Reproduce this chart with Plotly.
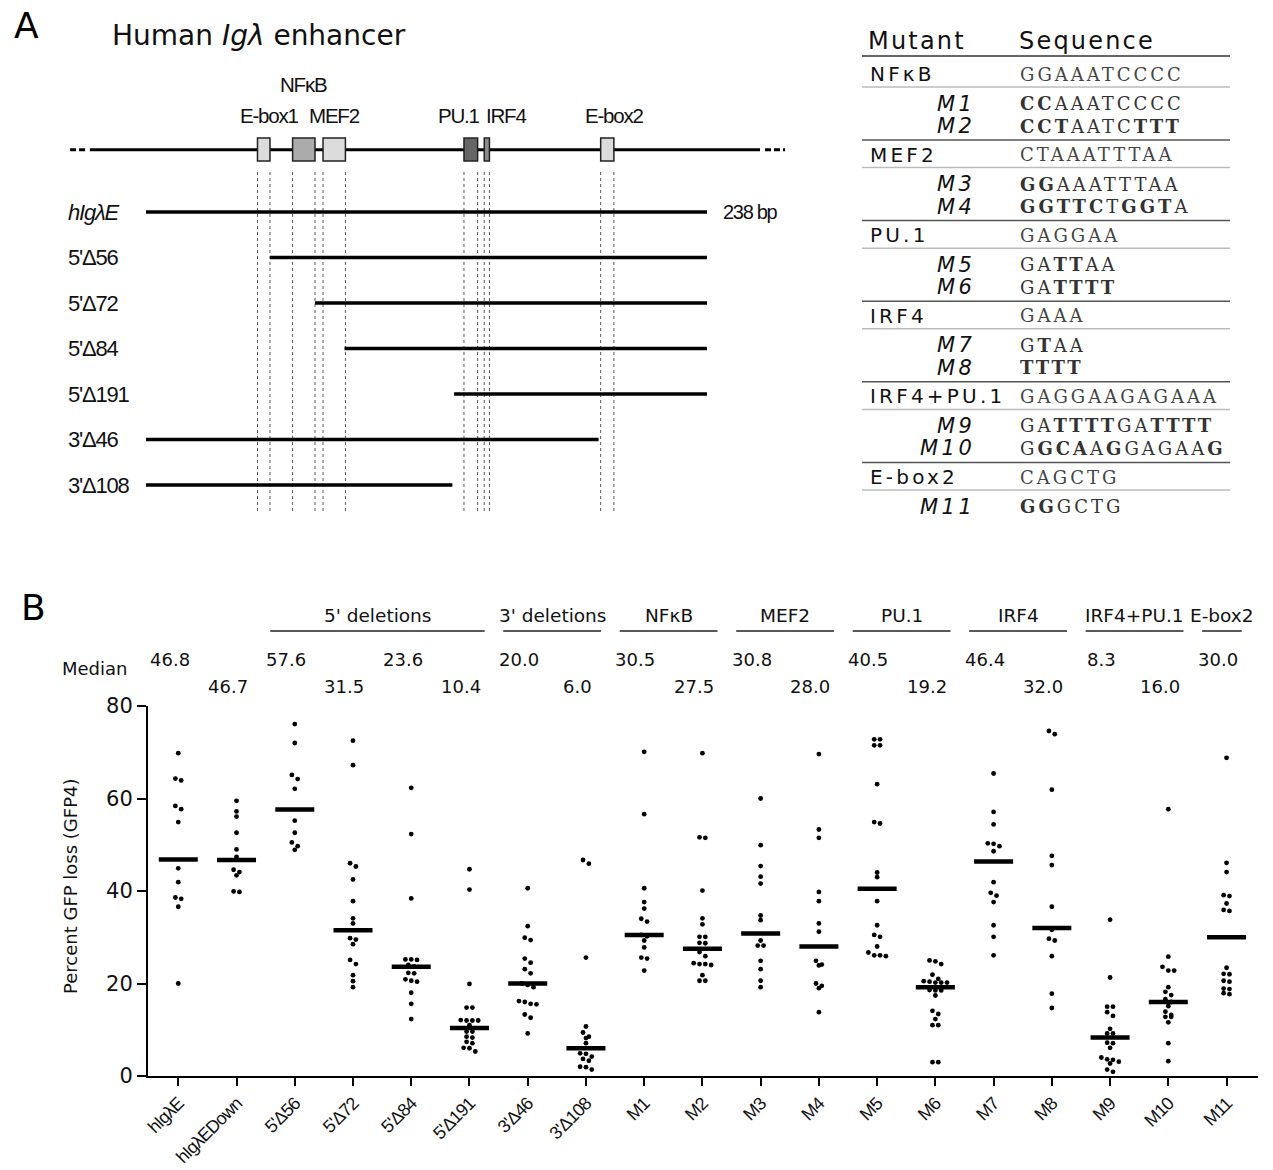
import plotly.graph_objects as go

W, H = 1273, 1170

# ---------------- Panel B data ----------------
categories = ["hIgλE", "hIgλEDown", "5'Δ56", "5'Δ72", "5'Δ84", "5'Δ191",
              "3'Δ46", "3'Δ108", "M1", "M2", "M3", "M4", "M5", "M6",
              "M7", "M8", "M9", "M10", "M11"]
medians = [46.8, 46.7, 57.6, 31.5, 23.6, 10.4, 20.0, 6.0, 30.5, 27.5,
           30.8, 28.0, 40.5, 19.2, 46.4, 32.0, 8.3, 16.0, 30.0]

hIgE = [69.8, 64.3, 63.9, 58.4, 57.7, 54.9, 44.9, 41.9, 38.6, 38.3, 36.6, 20.0]
hIgEDown = [59.5, 57.2, 56.1, 52.6, 49.0, 47.4, 44.6, 44.1, 43.4, 39.9, 39.8]
d5_56 = [76.1, 72.0, 65.1, 64.2, 62.1, 55.2, 52.6, 50.5, 49.7, 48.9]
d5_72 = [72.5, 67.2, 46.0, 45.3, 42.5, 37.8, 34.1, 33.0, 29.8, 29.5, 28.5,
         25.1, 24.2, 21.8, 20.5, 19.2]
d5_84 = [62.3, 52.3, 38.4, 25.2, 25.2, 25.1, 24.0, 23.7, 22.3, 22.2, 20.9,
         20.6, 20.4, 18.0, 15.6, 12.3]
d5_191 = [44.7, 40.3, 19.9, 14.8, 14.8, 12.1, 12.0, 12.0, 12.0, 11.0, 9.6,
          9.6, 8.5, 8.3, 7.4, 7.1, 6.1, 6.0, 5.3]
d3_46 = [40.6, 32.4, 29.9, 29.4, 25.4, 24.5, 23.1, 22.2, 20.0, 19.7, 19.2,
         16.2, 16.0, 15.6, 15.5, 13.3, 12.6, 9.2]
d3_108 = [46.7, 45.9, 25.6, 10.7, 9.4, 8.5, 8.2, 7.1, 4.9, 4.8, 4.2, 3.7,
          3.3, 2.0, 1.9, 1.4]
m1 = [70.1, 56.6, 40.6, 37.6, 36.2, 34.0, 33.4, 30.5, 30.2, 29.3, 27.8,
      25.6, 25.4, 22.8]
m2 = [69.8, 51.6, 51.5, 40.1, 34.1, 32.8, 30.1, 30.1, 28.8, 28.7, 26.8,
      25.9, 24.4, 24.2, 24.2, 24.0, 21.8, 20.6, 20.6]
m3 = [60.0, 49.9, 45.4, 43.1, 41.6, 34.7, 33.7, 29.3, 28.2, 28.2, 24.9,
      23.1, 20.6, 19.2]
m4 = [69.6, 53.3, 51.5, 39.8, 37.8, 33.0, 31.2, 24.9, 24.1, 23.9, 20.0,
      19.5, 19.0, 13.8]
m5 = [72.8, 72.8, 71.5, 71.5, 63.1, 54.9, 54.6, 44.0, 43.0, 37.8, 32.6,
      30.5, 30.1, 28.0, 26.7, 26.1, 26.1, 25.9]
m6 = [25.0, 24.8, 24.2, 21.9, 21.0, 20.5, 20.4, 20.2, 20.2, 20.2, 18.6,
      18.5, 18.5, 17.4, 14.1, 13.4, 12.3, 11.0, 11.0, 3.0, 3.0]
m7 = [65.4, 57.1, 54.4, 50.3, 50.2, 49.7, 48.6, 41.9, 39.6, 39.0, 37.6,
      32.6, 30.1, 26.1]
m8 = [74.6, 73.9, 61.9, 47.6, 45.6, 36.6, 31.6, 29.7, 29.3, 25.9, 17.8, 14.7]
m9 = [33.8, 21.3, 15.0, 15.0, 13.8, 13.0, 10.2, 9.2, 9.2, 7.2, 7.1, 6.1,
      4.0, 3.6, 3.5, 3.1, 2.7, 1.4, 0.9]
m10 = [57.7, 25.8, 23.6, 22.8, 22.8, 19.2, 18.2, 17.5, 16.6, 16.0, 15.1,
       13.9, 13.2, 12.8, 12.8, 11.6, 7.1, 3.2]
m11 = [68.8, 46.1, 44.1, 39.1, 38.9, 37.3, 35.9, 35.7, 23.4, 22.1, 22.0,
       20.6, 20.4, 18.9, 18.8, 17.9, 17.7]
series = [hIgE, hIgEDown, d5_56, d5_72, d5_84, d5_191, d3_46, d3_108,
          m1, m2, m3, m4, m5, m6, m7, m8, m9, m10, m11]

group_names = ["5' deletions", "3' deletions", "NFκB", "MEF2", "PU.1",
               "IRF4", "IRF4+PU.1", "E-box2"]
group_first = [2, 6, 8, 10, 12, 14, 16, 18]
group_last = [5, 7, 9, 11, 13, 15, 17, 18]
y_ticks = [0, 20, 40, 60, 80]

# ---------------- Panel A data ----------------
construct_names = ["<i>hIgλE</i>", "5'Δ56", "5'Δ72", "5'Δ84",
                   "5'Δ191", "3'Δ46", "3'Δ108"]
construct_start = [0, 52.6, 71.7, 84.2, 130.7, 0, 0]
construct_end = [238, 238, 238, 238, 238, 192, 130]
feature_names = ["E-box1", "NFκB", "MEF2", "PU.1", "IRF4", "E-box2"]
feature_start = [47.3, 62.2, 75.1, 134.9, 143.5, 192.9]
feature_end = [52.6, 71.7, 84.6, 140.7, 145.7, 198.5]
feature_label_x = [52.4, 67.0, 80.0, 133.0, 152.6, 198.9]
feature_label_row = [-2.11, -2.81, -2.11, -2.11, -2.11, -2.11]
feature_colors = ["#dcdcdc", "#ababab", "#dcdcdc", "#666666", "#8c8c8c", "#dcdcdc"]

# ---------------- Table data ----------------
table_groups = ["NFκB", "MEF2", "PU.1", "IRF4", "IRF4+PU.1", "E-box2"]
wt_seqs = ["GGAAATCCCC", "CTAAATTTAA", "GAGGAA", "GAAA", "GAGGAAGAGAAA", "CAGCTG"]
mutant_names = [["M1", "M2"], ["M3", "M4"], ["M5", "M6"], ["M7", "M8"],
                ["M9", "M10"], ["M11"]]
mutant_seqs = [["CCAAATCCCC", "CCTAATCTTT"], ["GGAAATTTAA", "GGTTCTGGTA"],
               ["GATTAA", "GATTTT"], ["GTAA", "TTTT"],
               ["GATTTTGATTTT", "GGCAAGGAGAAG"], ["GGGCTG"]]

# ---------------- helpers ----------------
COND = "Liberation Sans, Arial, sans-serif"
SANS = "DejaVu Sans, sans-serif"
SERIF = "DejaVu Serif, Liberation Serif, serif"


def pxx(x):
    return x / W


def pxy(y):
    return 1 - y / H


def ls(text, sp):
    return '<span style="letter-spacing:%spx">%s</span>' % (sp, text)


def swarm(values, step=0.1, tol=0.95):
    order = sorted(range(len(values)), key=lambda k: -values[k])
    rows = []
    for k in order:
        if rows and rows[-1][0] - values[k] <= tol:
            rows[-1][1].append(k)
        else:
            rows.append([values[k], [k]])
    offs = [0.0] * len(values)
    for _, idx in rows:
        n = len(idx)
        for j, k in enumerate(idx):
            offs[k] = (j - (n - 1) / 2) * step
    return offs


def mark_bold(mut, wt):
    out = ""
    for a, b in zip(mut, wt):
        out += "<b>%s</b>" % a if a != b else a
    return out


fig = go.Figure()
annotations = []
shapes = []

# ---------------- Panel B ----------------
for i, vals in enumerate(series):
    offs = swarm(vals)
    fig.add_trace(go.Scatter(x=[i + o for o in offs], y=vals, mode="markers",
                             marker=dict(size=4.8, color="black"),
                             xaxis="x", yaxis="y", showlegend=False, hoverinfo="skip"))
mx, my = [], []
for i, m in enumerate(medians):
    mx += [i - 0.335, i + 0.335, None]
    my += [m, m, None]
fig.add_trace(go.Scatter(x=mx, y=my, mode="lines", line=dict(color="black", width=4.5),
                         xaxis="x", yaxis="y", showlegend=False, hoverinfo="skip"))

for i, m in enumerate(medians):
    annotations.append(dict(x=i - 0.15, xref="x", y=pxy(659 if i % 2 == 0 else 686), yref="paper",
                            text="%.1f" % m, showarrow=False, xanchor="center", yanchor="middle",
                            font=dict(family=SANS, size=18, color="#111")))
annotations.append(dict(x=pxx(95), xref="paper", y=pxy(668), yref="paper", text="Median",
                        showarrow=False, xanchor="center", yanchor="middle",
                        font=dict(family=SANS, size=18, color="#111")))
for name, a, b in zip(group_names, group_first, group_last):
    x0, x1 = a - 0.42, b + 0.26
    shapes.append(dict(type="line", xref="x", yref="paper", x0=x0, x1=x1,
                       y0=pxy(631), y1=pxy(631), line=dict(color="#222", width=1.6)))
    annotations.append(dict(x=(x0 + x1) / 2, xref="x", y=pxy(615), yref="paper", text=name,
                            showarrow=False, xanchor="center", yanchor="middle",
                            font=dict(family=SANS, size=18.5, color="#111")))
annotations.append(dict(x=pxx(70), xref="paper", y=pxy(887), yref="paper",
                        text="Percent GFP loss (GFP4)", textangle=-90, showarrow=False,
                        xanchor="center", yanchor="middle",
                        font=dict(family=SANS, size=18, color="#111")))
annotations.append(dict(x=pxx(33), xref="paper", y=pxy(607), yref="paper", text="B",
                        showarrow=False, xanchor="center", yanchor="middle",
                        font=dict(family=SANS, size=36, color="#000")))

# ---------------- Panel A ----------------
cx, cy = [], []
for r, (s, e) in enumerate(zip(construct_start, construct_end)):
    cx += [s, e, None]
    cy += [r, r, None]
fig.add_trace(go.Scatter(x=cx, y=cy, mode="lines", line=dict(color="black", width=3.5),
                         xaxis="x2", yaxis="y2", showlegend=False, hoverinfo="skip"))
MAIN_ROW = -1.37
fig.add_trace(go.Scatter(x=[-23.8, 260.5], y=[MAIN_ROW, MAIN_ROW], mode="lines",
                         line=dict(color="black", width=3), xaxis="x2", yaxis="y2",
                         showlegend=False, hoverinfo="skip"))
fig.add_trace(go.Scatter(x=[-32.2, -24.6, None, 262.6, 271.1], y=[MAIN_ROW] * 2 + [None] + [MAIN_ROW] * 2,
                         mode="lines", line=dict(color="black", width=3, dash="6px,3px"),
                         xaxis="x2", yaxis="y2", showlegend=False, hoverinfo="skip"))
for s, e in zip(feature_start, feature_end):
    for xv in (s, e):
        shapes.append(dict(type="line", xref="x2", yref="y2", x0=xv, x1=xv, y0=-0.88, y1=6.62,
                           line=dict(color="#555", width=1, dash="3px,3px"), layer="below"))
for name, s, e, c, lx, lr in zip(feature_names, feature_start, feature_end, feature_colors,
                                 feature_label_x, feature_label_row):
    shapes.append(dict(type="rect", xref="x2", yref="y2", x0=s, x1=e, y0=MAIN_ROW - 0.255,
                       y1=MAIN_ROW + 0.25, fillcolor=c, line=dict(color="#222", width=1.5)))
    annotations.append(dict(x=lx, xref="x2", y=lr, yref="y2", text=ls(name, -1.2), showarrow=False,
                            xanchor="center", yanchor="middle",
                            font=dict(family=COND, size=20.5, color="#111")))
for r, name in enumerate(construct_names):
    annotations.append(dict(x=pxx(66), xref="paper", y=r, yref="y2", text=ls(name, -1.2),
                            showarrow=False, xanchor="left", yanchor="middle",
                            font=dict(family=COND, size=22, color="#111")))
annotations.append(dict(x=238, xref="x2", y=0, yref="y2", text=ls("238 bp", -1.3), xshift=14,
                        showarrow=False, xanchor="left", yanchor="middle",
                        font=dict(family=COND, size=20, color="#111")))
annotations.append(dict(x=pxx(110), xref="paper", y=pxy(35), yref="paper",
                        text="Human <i>Igλ</i> enhancer", showarrow=False,
                        xanchor="left", yanchor="middle",
                        font=dict(family=SANS, size=28, color="#111")))
annotations.append(dict(x=pxx(26), xref="paper", y=pxy(25), yref="paper", text="A",
                        showarrow=False, xanchor="center", yanchor="middle",
                        font=dict(family=SANS, size=36, color="#000")))

# ---------------- Table ----------------
TL, TR = 862, 1230
annotations.append(dict(x=pxx(866), xref="paper", y=pxy(41), yref="paper", text=ls("Mutant", 2.2),
                        showarrow=False, xanchor="left", yanchor="middle",
                        font=dict(family=SANS, size=24, color="#111")))
annotations.append(dict(x=pxx(1017), xref="paper", y=pxy(41), yref="paper", text=ls("Sequence", 2.2),
                        showarrow=False, xanchor="left", yanchor="middle",
                        font=dict(family=SANS, size=24, color="#111")))
shapes.append(dict(type="line", xref="paper", yref="paper", x0=pxx(TL), x1=pxx(TR),
                   y0=pxy(56), y1=pxy(56), line=dict(color="#333", width=1.5)))
for g, (gname, wt) in enumerate(zip(table_groups, wt_seqs)):
    gy = 74 + g * 80.6
    annotations.append(dict(x=pxx(868), xref="paper", y=pxy(gy), yref="paper", text=ls(gname, 3.2),
                            showarrow=False, xanchor="left", yanchor="middle",
                            font=dict(family=SANS, size=20, color="#111")))
    annotations.append(dict(x=pxx(1018), xref="paper", y=pxy(gy), yref="paper", text=ls(wt, 3),
                            showarrow=False, xanchor="left", yanchor="middle",
                            font=dict(family=SERIF, size=18, color="#444")))
    shapes.append(dict(type="line", xref="paper", yref="paper", x0=pxx(TL), x1=pxx(TR),
                       y0=pxy(gy + 13), y1=pxy(gy + 13), line=dict(color="#bbb", width=1.5)))
    for k, (mn, ms) in enumerate(zip(mutant_names[g], mutant_seqs[g])):
        my_ = gy + 29.5 + k * 22.5
        annotations.append(dict(x=pxx(977), xref="paper", y=pxy(my_), yref="paper",
                                text=ls("<i>%s</i>" % mn, 3.5), showarrow=False, xanchor="right",
                                yanchor="middle", font=dict(family=SANS, size=21, color="#111")))
        annotations.append(dict(x=pxx(1018), xref="paper", y=pxy(my_), yref="paper",
                                text=ls(mark_bold(ms, wt), 3), showarrow=False, xanchor="left",
                                yanchor="middle", font=dict(family=SERIF, size=18, color="#333")))
    if g < len(table_groups) - 1:
        shapes.append(dict(type="line", xref="paper", yref="paper", x0=pxx(TL), x1=pxx(TR),
                           y0=pxy(gy + 66), y1=pxy(gy + 66), line=dict(color="#555", width=1.5)))

fig.update_layout(
    width=W, height=H, margin=dict(l=0, r=0, t=0, b=0, pad=0), autosize=False,
    paper_bgcolor="white", plot_bgcolor="white",
    xaxis=dict(domain=[148 / W, 1258 / W], range=[-0.52, 18.54], anchor="y",
               tickmode="array", tickvals=list(range(len(categories))),
               ticktext=[ls(c, -0.9) for c in categories], tickangle=-45,
               ticks="outside", ticklen=8, tickwidth=2, tickcolor="black",
               showline=True, linewidth=2, linecolor="black", showgrid=False, zeroline=False,
               tickfont=dict(family=COND, size=18, color="#111"), automargin=False),
    yaxis=dict(domain=[94 / H, 464 / H], range=[0, 80], anchor="x",
               tickmode="array", tickvals=y_ticks, ticks="outside", ticklen=9, tickwidth=2,
               tickcolor="black", showline=True, linewidth=2, linecolor="black",
               showgrid=False, zeroline=False, automargin=False,
               tickfont=dict(family=SANS, size=21, color="#111")),
    xaxis2=dict(domain=[0, 1], range=[-146 / 2.3571, (W - 146) / 2.3571], anchor="y2",
                visible=False, automargin=False),
    yaxis2=dict(domain=[1 - 530 / H, 1], range=[(530 - 212) / 45.5, -212 / 45.5], anchor="x2",
                visible=False, automargin=False),
    annotations=annotations, shapes=shapes,
)

fig.write_html("out.html", config={"displayModeBar": False},
               post_script="document.body.style.margin='0';"
                           "document.documentElement.style.overflow='hidden';")
